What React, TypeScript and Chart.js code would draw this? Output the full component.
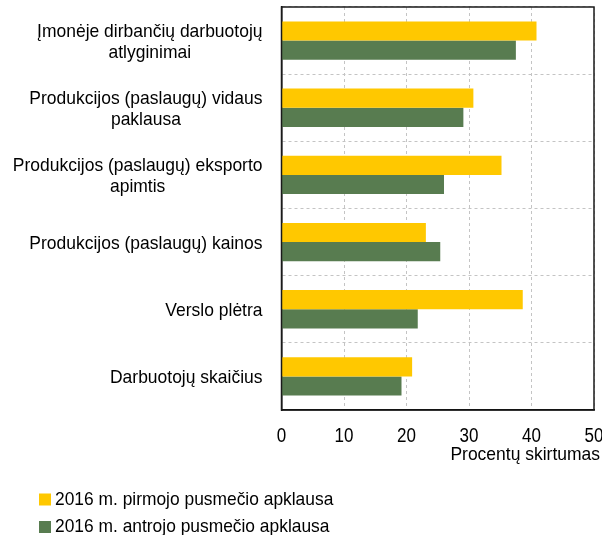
import React, { useEffect, useRef } from "react";
import { Chart, registerables } from "chart.js";

Chart.register(...registerables);

const categories: string[][] = [
  ["Įmonėje dirbančių darbuotojų", "atlyginimai"],
  ["Produkcijos (paslaugų) vidaus", "paklausa"],
  ["Produkcijos (paslaugų) eksporto", "apimtis"],
  ["Produkcijos (paslaugų) kainos"],
  ["Verslo plėtra"],
  ["Darbuotojų skaičius"],
];
const firstHalf2016 = [40.8, 30.7, 35.2, 23.1, 38.6, 20.9];
const secondHalf2016 = [37.5, 29.1, 26.0, 25.4, 21.8, 19.2];
const seriesNames = [
  "2016 m. pirmojo pusmečio apklausa",
  "2016 m. antrojo pusmečio apklausa",
];
const xTicks = [0, 10, 20, 30, 40, 50];
const xTitle = "Procentų skirtumas";

const FONT = '"Liberation Sans", Arial, sans-serif';
const YELLOW = "#FFC800";
const GREEN = "#587C50";

function drawText(ctx: CanvasRenderingContext2D, text: string, x: number, y: number, align: CanvasTextAlign, sx: number) {
  ctx.save();
  ctx.translate(x, y);
  ctx.scale(sx, 1);
  ctx.textAlign = align;
  ctx.fillText(text, 0, 0);
  ctx.restore();
}

export default function App() {
  const ref = useRef<HTMLCanvasElement | null>(null);

  useEffect(() => {
    const canvas = ref.current;
    if (!canvas) return;

    const overlay = {
      id: "overlay",
      afterDraw(chart: any) {
        const { ctx, chartArea } = chart;
        const y = chart.scales.y;
        const x = chart.scales.x;
        ctx.save();
        // box
        ctx.setLineDash([]);
        ctx.strokeStyle = "#1a1a1a";
        ctx.lineWidth = 1.5;
        ctx.strokeRect(chartArea.left, chartArea.top, chartArea.right - chartArea.left, chartArea.bottom - chartArea.top);
        ctx.fillStyle = "#000";
        ctx.textBaseline = "middle";
        // category labels: right-aligned block, lines centered
        const SX = 0.92;
        ctx.font = `19px ${FONT}`;
        const rightEdge = chartArea.left - 19;
        const lh = 21.5;
        categories.forEach((lines, i) => {
          const cy = y.getPixelForValue(i) + 1.5;
          const maxW = Math.max(...lines.map((l) => ctx.measureText(l).width)) * SX;
          const cx = rightEdge - maxW / 2;
          const startY = cy - ((lines.length - 1) * lh) / 2;
          lines.forEach((l, j) => drawText(ctx, l, cx, startY + j * lh, "center", SX));
        });
        // x ticks
        ctx.font = `20.5px ${FONT}`;
        xTicks.forEach((v) => drawText(ctx, String(v), x.getPixelForValue(v), 436, "center", 0.83));
        // x title
        ctx.font = `19px ${FONT}`;
        drawText(ctx, xTitle, 600, 455, "right", SX);
        // legend
        const colors = [YELLOW, GREEN];
        seriesNames.forEach((n, i) => {
          const ly = 499.5 + i * 27.5;
          ctx.fillStyle = colors[i];
          ctx.fillRect(39, ly - 6, 12, 12);
          ctx.fillStyle = "#000";
          drawText(ctx, n, 55, ly, "left", 0.915);
        });
        ctx.restore();
      },
    };

    const chart = new Chart(canvas, {
      type: "bar",
      data: {
        labels: categories,
        datasets: [
          { label: seriesNames[0], data: firstHalf2016, backgroundColor: YELLOW },
          { label: seriesNames[1], data: secondHalf2016, backgroundColor: GREEN },
        ],
      },
      options: {
        indexAxis: "y",
        responsive: false,
        animation: false,
        layout: { padding: { top: 7, right: 8, left: 0, bottom: 0 } },
        datasets: { bar: { categoryPercentage: 0.57, barPercentage: 1 } },
        plugins: { legend: { display: false }, tooltip: { enabled: false } },
        scales: {
          x: {
            min: 0,
            max: 50,
            ticks: { stepSize: 10, display: false },
            grid: { color: "#c4c4c4", drawTicks: false },
            border: { color: "#000", width: 1.5, dash: [3, 3] },
            afterFit: (s: any) => { s.height = 535 - 410; },
          },
          y: {
            ticks: { display: false },
            grid: { color: "#c4c4c4", drawTicks: false, offset: true },
            border: { color: "#000", width: 1.5, dash: [3, 3] },
            afterFit: (s: any) => { s.width = 281.5; },
          },
        },
      } as any,
      plugins: [overlay],
    });

    return () => chart.destroy();
  }, []);

  return (
    <div style={{ position: "fixed", left: 0, top: 0, width: 602, height: 535, background: "#fff" }}>
      <canvas ref={ref} width={602} height={535} />
    </div>
  );
}
